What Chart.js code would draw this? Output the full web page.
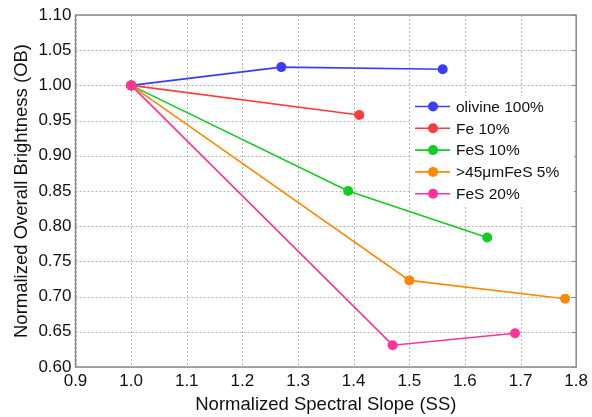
<!DOCTYPE html>
<html>
<head>
<meta charset="utf-8">
<script src="https://cdn.jsdelivr.net/npm/chart.js@4.4.1/dist/chart.umd.min.js"></script>
<style>
  html, body { margin: 0; padding: 0; background: #fff; }
  #wrap { width: 592px; height: 417px; }
</style>
</head>
<body>
<div id="wrap"><canvas id="chart"></canvas></div>
<script>
// Series labels and values
const seriesNames = ['olivine 100%', 'Fe 10%', 'FeS 10%', '>45\u03bcmFeS 5%', 'FeS 20%'];
const seriesColors = ['#3b3bff', '#ff3b3b', '#11cc22', '#ff8800', '#ff3399'];

const olivineSS = [1.0, 1.27, 1.56];
const olivineOB = [1.0, 1.026, 1.023];
const fe10SS = [1.0, 1.41];
const fe10OB = [1.0, 0.958];
const fes10SS = [1.0, 1.39, 1.64];
const fes10OB = [1.0, 0.85, 0.784];
const fes5SS = [1.0, 1.50, 1.78];
const fes5OB = [1.0, 0.723, 0.697];
const fes20SS = [1.0, 1.47, 1.69];
const fes20OB = [1.0, 0.631, 0.648];

const xTicks = [0.9, 1.0, 1.1, 1.2, 1.3, 1.4, 1.5, 1.6, 1.7, 1.8];
const yTicks = [0.60, 0.65, 0.70, 0.75, 0.80, 0.85, 0.90, 0.95, 1.00, 1.05, 1.10];

const xs = [olivineSS, fe10SS, fes10SS, fes5SS, fes20SS];
const ys = [olivineOB, fe10OB, fes10OB, fes5OB, fes20OB];

const FONT = '"Liberation Sans", Arial, sans-serif';

const datasets = seriesNames.map((name, i) => ({
    label: name,
    data: xs[i].map((x, j) => ({ x: x, y: ys[i][j] })),
    showLine: true,
    borderColor: seriesColors[i],
    backgroundColor: seriesColors[i],
    borderWidth: 1.6,
    pointRadius: 5,
    pointHoverRadius: 5,
    pointBorderWidth: 0,
    order: seriesNames.length - i
}));

// dotted grid drawn under the data
const gridPlugin = {
    id: 'dottedGrid',
    beforeDatasetsDraw(chart) {
        const { ctx, chartArea: a, scales } = chart;
        ctx.save();
        ctx.strokeStyle = '#b4b4b4';
        ctx.lineWidth = 1;
        ctx.setLineDash([2, 2]);
        ctx.beginPath();
        xTicks.forEach(v => {
            const px = Math.round(scales.x.getPixelForValue(v)) + 0.5;
            ctx.moveTo(px, a.top);
            ctx.lineTo(px, a.bottom);
        });
        yTicks.forEach(v => {
            const py = Math.round(scales.y.getPixelForValue(v)) + 0.5;
            ctx.moveTo(a.left, py);
            ctx.lineTo(a.right, py);
        });
        ctx.stroke();
        ctx.restore();
    }
};

// Box frame, inner ticks on the right edge
const framePlugin = {
    id: 'frame',
    afterDatasetsDraw(chart) {
        const { ctx, chartArea: a, scales } = chart;
        ctx.save();
        ctx.strokeStyle = '#8a8a8a';
        ctx.lineWidth = 1;
        ctx.beginPath();
        yTicks.forEach(v => {
            const py = Math.round(scales.y.getPixelForValue(v)) + 0.5;
            ctx.moveTo(a.right, py);
            ctx.lineTo(a.right - 5, py);
        });
        ctx.stroke();
        ctx.lineWidth = 1.5;
        ctx.strokeRect(a.left, a.top, a.right - a.left, a.bottom - a.top);
        ctx.restore();
    }
};

// Legend placed inside the plot, like the original figure
const legendPlugin = {
    id: 'insideLegend',
    afterDatasetsDraw(chart) {
        const { ctx } = chart;
        const x0 = 412, y0 = 96, rowH = 21.8;
        ctx.save();
        ctx.fillStyle = '#fff';
        ctx.fillRect(x0, y0, 162, rowH * seriesNames.length + 1);
        ctx.font = '15.5px ' + FONT;
        ctx.textBaseline = 'middle';
        seriesNames.forEach((name, i) => {
            const cy = y0 + 10.5 + i * rowH;
            ctx.strokeStyle = seriesColors[i];
            ctx.lineWidth = 1.6;
            ctx.beginPath();
            ctx.moveTo(x0 + 3, cy);
            ctx.lineTo(x0 + 38, cy);
            ctx.stroke();
            ctx.fillStyle = seriesColors[i];
            ctx.beginPath();
            ctx.arc(x0 + 21, cy, 5, 0, Math.PI * 2);
            ctx.fill();
            ctx.fillStyle = '#111';
            ctx.fillText(name, x0 + 44, cy + 1);
        });
        ctx.restore();
    }
};

new Chart(document.getElementById('chart'), {
    type: 'scatter',
    data: { datasets: datasets },
    options: {
        responsive: true,
        maintainAspectRatio: false,
        animation: false,
        events: [],
        layout: { padding: { top: 15, right: 14, left: 0, bottom: 0 } },
        plugins: {
            legend: { display: false },
            tooltip: { enabled: false }
        },
        scales: {
            x: {
                type: 'linear',
                min: 0.9,
                max: 1.8,
                afterBuildTicks: s => { s.ticks = xTicks.map(v => ({ value: v })); },
                afterFit: s => { s.height = 50; },
                grid: { display: false, drawTicks: false },
                border: { display: false },
                ticks: {
                    color: '#111',
                    font: { family: FONT, size: 17 },
                    padding: 4,
                    maxRotation: 0,
                    callback: v => v.toFixed(1)
                },
                title: {
                    display: true,
                    text: 'Normalized Spectral Slope (SS)',
                    color: '#111',
                    font: { family: FONT, size: 18.5 },
                    padding: { top: 0, bottom: 1 }
                }
            },
            y: {
                type: 'linear',
                min: 0.6,
                max: 1.1,
                afterBuildTicks: s => { s.ticks = yTicks.map(v => ({ value: v })); },
                afterFit: s => { s.width = 75.5; },
                grid: { display: false, drawTicks: false },
                border: { display: false },
                ticks: {
                    color: '#111',
                    font: { family: FONT, size: 17 },
                    padding: 4,
                    callback: v => v.toFixed(2)
                },
                title: {
                    display: true,
                    text: 'Normalized Overall Brightness (OB)',
                    color: '#111',
                    font: { family: FONT, size: 18.5 },
                    padding: { top: 11, bottom: 0 }
                }
            }
        }
    },
    plugins: [gridPlugin, framePlugin, legendPlugin]
});
</script>
</body>
</html>
